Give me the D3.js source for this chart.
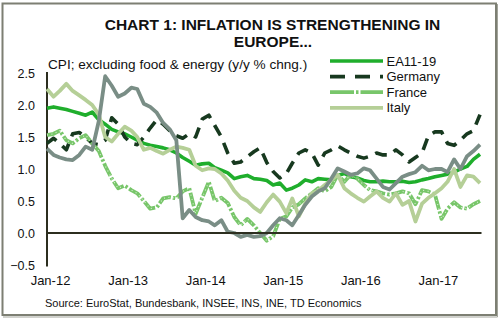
<!DOCTYPE html>
<html>
<head>
<meta charset="utf-8">
<script src="https://cdn.jsdelivr.net/npm/d3@7/dist/d3.min.js"></script>
<style>
  html, body { margin: 0; padding: 0; background: #fff; }
  svg { display: block; font-family: "Liberation Sans", Arial, sans-serif; }
</style>
</head>
<body>
<svg id="chart" width="500" height="321"></svg>
<script>
// Core CPI, y/y % change, monthly from Jan-2012 to Aug-2017
const startMonth = new Date(2012, 0, 1);
const xTickLabels = ["Jan-12", "Jan-13", "Jan-14", "Jan-15", "Jan-16", "Jan-17"];
const yTicks = [-0.5, 0.0, 0.5, 1.0, 1.5, 2.0, 2.5];

const ea = [1.95,1.97,1.95,1.93,1.90,1.87,1.84,1.89,1.77,1.70,1.62,1.58,
            1.55,1.50,1.45,1.40,1.37,1.35,1.33,1.30,1.25,1.18,1.12,1.06,
            1.08,1.09,1.02,0.98,0.94,0.85,0.88,0.90,0.85,0.84,0.82,0.75,
            0.78,0.67,0.70,0.75,0.83,0.80,0.85,0.84,0.83,0.90,0.93,0.88,
            0.86,0.82,0.80,0.80,0.81,0.80,0.80,0.81,0.79,0.80,0.83,0.85,
            0.88,0.90,0.92,0.95,1.00,1.04,1.15,1.23];

const germany = [1.40,1.48,1.40,1.30,1.55,1.57,1.50,1.40,1.38,1.45,1.80,1.70,
                 1.50,1.40,1.38,1.50,1.64,1.77,1.70,1.60,1.52,1.48,1.55,1.50,
                 1.78,1.84,1.68,1.50,1.25,1.09,1.11,1.19,1.27,1.33,1.10,0.96,
                 0.86,0.93,1.09,1.25,1.30,1.25,1.06,1.25,1.30,1.36,1.30,1.25,
                 1.20,1.17,1.20,1.25,1.22,1.22,1.30,1.22,1.11,1.18,1.25,1.52,
                 1.58,1.58,1.40,1.37,1.45,1.55,1.60,1.85];

const france = [1.53,1.55,1.60,1.45,1.40,1.48,1.53,1.40,1.28,1.05,0.85,0.70,
                0.74,0.67,0.62,0.50,0.38,0.40,0.54,0.56,0.54,0.65,0.70,0.30,
                0.55,0.80,0.50,0.55,0.47,0.25,0.12,0.22,0.12,0.00,-0.12,-0.05,
                0.22,0.26,0.40,0.45,0.54,0.62,0.70,0.65,0.72,0.91,0.80,0.91,
                0.85,0.75,0.67,0.65,0.62,0.60,0.62,0.65,0.62,0.45,0.67,0.65,
                0.60,0.22,0.38,0.48,0.40,0.38,0.45,0.50];

const italy = [2.25,2.13,2.22,2.33,2.22,2.15,2.08,2.00,1.85,1.50,1.43,1.55,
               1.66,1.60,1.50,1.30,1.33,1.28,1.24,1.30,1.35,1.33,1.30,1.05,
               0.98,1.01,1.00,0.93,0.82,0.66,0.55,0.50,0.40,0.33,0.48,0.60,
               0.49,0.31,0.54,0.26,0.46,0.62,0.66,0.75,0.83,0.91,0.70,0.62,
               0.55,0.49,0.57,0.65,0.55,0.49,0.62,0.44,0.50,0.18,0.46,0.55,
               0.62,0.70,0.80,1.00,0.72,0.90,0.88,0.78];

const spain = [1.32,1.22,1.18,1.15,1.14,1.22,1.35,1.30,1.75,2.45,2.30,2.13,
               2.18,2.27,2.25,2.02,1.97,1.88,1.72,1.62,1.45,0.23,0.36,0.25,
               0.20,0.18,0.12,0.20,0.02,0.00,-0.06,-0.03,-0.06,-0.05,0.00,0.12,
               0.23,0.20,0.12,0.28,0.44,0.57,0.65,0.70,0.85,1.01,0.96,0.91,
               0.93,1.01,0.98,0.85,0.72,0.68,0.78,0.88,0.92,0.95,1.05,0.98,
               1.00,1.00,0.95,1.15,1.00,1.20,1.28,1.38];

const months = d3.timeMonth.range(startMonth, d3.timeMonth.offset(startMonth, ea.length));

const series = [
  { name: "EA11-19", values: ea,      color: "#1fae2c", width: 3.6, dash: null,  legend: true },
  { name: "Germany", values: germany, color: "#17391f", width: 3.6, dash: "12,8", legend: true },
  { name: "France",  values: france,  color: "#78c66a", width: 3.8, dash: "14,2,2.5,2", legend: true, dotted: true },
  { name: "Italy",   values: italy,   color: "#b5cf97", width: 3.8, dash: null,  legend: true },
  { name: "Spain",   values: spain,   color: "#7a8e86", width: 3.8, dash: null,  legend: false }
];

const svg = d3.select("#chart");

// frame
svg.append("rect")
  .attr("x", 2.5).attr("y", 3.5).attr("width", 493.5).attr("height", 311.5)
  .attr("fill", "none").attr("stroke", "#7d7f73").attr("stroke-width", 2);
svg.append("path")
  .attr("d", "M497.5,4 V317 H3")
  .attr("fill", "none").attr("stroke", "#a3a59b").attr("stroke-width", 1);

// titles
svg.append("text").attr("x", 272.5).attr("y", 29.5).attr("text-anchor", "middle")
  .attr("font-size", 15.5).attr("font-weight", "bold").attr("fill", "#111")
  .text("CHART 1: INFLATION IS STRENGTHENING IN");
svg.append("text").attr("x", 273).attr("y", 47).attr("text-anchor", "middle")
  .attr("font-size", 15.5).attr("font-weight", "bold").attr("fill", "#111")
  .text("EUROPE...");
svg.append("text").attr("x", 48).attr("y", 68.5)
  .attr("font-size", 13.6).attr("fill", "#111")
  .text("CPI; excluding food & energy (y/y % chng.)");

// scales
const x = d3.scaleTime()
  .domain([months[0], months[months.length - 1]])
  .range([47, 480]);
const y = d3.scaleLinear().domain([-0.5, 2.5]).range([265, 73]);

// y axis labels
const yAxis = d3.axisLeft(y).tickValues(yTicks).tickFormat(d3.format(".1f")).tickSize(0).tickPadding(0);
const gy = svg.append("g").attr("transform", "translate(35,0)").call(yAxis);
gy.select(".domain").remove();
gy.selectAll("text").attr("font-size", 12.5).attr("fill", "#111")
  .attr("font-family", "Liberation Sans, Arial, sans-serif");

// x axis labels at each January
const janTicks = xTickLabels.map((_, k) => months[k * 12]);
const xAxis = d3.axisBottom(x).tickValues(janTicks)
  .tickFormat((d, k) => xTickLabels[k]).tickSize(0).tickPadding(0);
const gx = svg.append("g").attr("transform", "translate(3,276)").call(xAxis);
gx.select(".domain").remove();
gx.selectAll("text").attr("font-size", 13).attr("fill", "#111").attr("dy", "0.71em")
  .attr("font-family", "Liberation Sans, Arial, sans-serif");

// axis lines
svg.append("line").attr("x1", 47).attr("x2", 47).attr("y1", 72).attr("y2", 266.5)
  .attr("stroke", "#2c2e1f").attr("stroke-width", 2);

// series lines
const line = d3.line().x((d, i) => x(months[i])).y(d => y(d));
series.forEach(s => {
  const p = svg.append("path").datum(s.values)
    .attr("d", line).attr("fill", "none")
    .attr("stroke", s.color).attr("stroke-width", s.width)
    .attr("stroke-linejoin", "round");
  if (s.dash) p.attr("stroke-dasharray", s.dash);
  if (s.dotted) {
    svg.append("path").datum(s.values)
      .attr("d", line).attr("fill", "none")
      .attr("stroke", "#ffffff").attr("stroke-opacity", 0.75)
      .attr("stroke-width", 1.1).attr("stroke-dasharray", "1,3.5");
  }
});

// zero line
svg.append("line").attr("x1", 47).attr("x2", 481.5).attr("y1", y(0)).attr("y2", y(0))
  .attr("stroke", "#2c2e1f").attr("stroke-width", 2);

// legend
const lg = svg.append("g");
series.filter(s => s.legend).forEach((s, k) => {
  const ly = 61 + k * 15.6;
  const l = lg.append("line").attr("x1", 330).attr("x2", 383).attr("y1", ly).attr("y2", ly)
    .attr("stroke", s.color).attr("stroke-width", s.width);
  if (s.name === "Germany") l.attr("stroke-dasharray", "15,10");
  if (s.name === "France") {
    l.attr("stroke-dasharray", "24,2,2.5,2");
  }
  lg.append("text").attr("x", 386.5).attr("y", ly + 4.5)
    .attr("font-size", 13).attr("fill", "#111").text(s.name);
});

// source
svg.append("text").attr("x", 45).attr("y", 306.5)
  .attr("font-size", 11).attr("fill", "#111")
  .text("Source: EuroStat, Bundesbank, INSEE, INS, INE, TD Economics");
</script>
</body>
</html>
